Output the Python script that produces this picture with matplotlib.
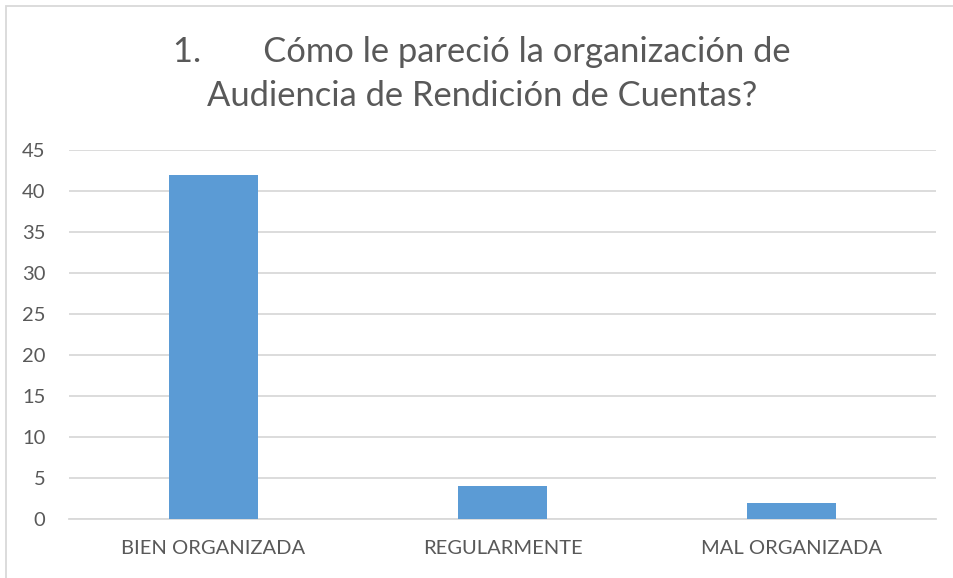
import matplotlib
matplotlib.use("Agg")
import matplotlib.pyplot as plt
from matplotlib.patches import Rectangle

categories = ["BIEN ORGANIZADA", "REGULARMENTE", "MAL ORGANIZADA"]
values = [42, 4, 2]
yticks = [0, 5, 10, 15, 20, 25, 30, 35, 40, 45]
title = "1.       Cómo le pareció la organización de\nAudiencia de Rendición de Cuentas?"

W, H = 954, 578
dpi = 100
fig = plt.figure(figsize=(W / dpi, H / dpi), dpi=dpi)
plt.rcParams['font.family'] = ['Lato', 'DejaVu Sans']

text_color = "#595959"
grid_color = "#D9D9D9"
bar_color = "#5B9BD5"

# axes: x 69..936, y 150..519 (pixels)
x0, x1, y0, y1 = 69, 936, 150, 519
ax = fig.add_axes([x0 / W, 1 - y1 / H, (x1 - x0) / W, (y1 - y0) / H])
ax.bar(range(len(categories)), values, width=0.31, color=bar_color, zorder=3)
ax.set_xlim(-0.5, len(categories) - 0.5)
ax.set_ylim(0, 45)
ax.set_yticks(yticks)
ax.set_xticks(range(len(categories)))
ax.set_xticklabels(categories)
ax.yaxis.grid(True, color=grid_color, linewidth=1.3, zorder=0)
ax.set_axisbelow(True)
for s in ["top", "right", "left"]:
    ax.spines[s].set_visible(False)
ax.spines["bottom"].set_color(grid_color)
ax.spines["bottom"].set_linewidth(1.3)
ax.tick_params(axis="both", length=0, labelcolor=text_color, labelsize=14.5)
ax.tick_params(axis="y", pad=17)
ax.tick_params(axis="x", pad=15)
for lbl in ax.get_yticklabels():
    lbl.set_horizontalalignment("right")

fig.text(0.505, 1 - 74 / H, title, ha="center", va="center", fontsize=24.8,
         color=text_color, linespacing=1.45)

# chart border (top and left visible)
fig.patches.append(Rectangle((6 / W, -0.1), 1.2, 1 - 6 / H + 0.1,
                             transform=fig.transFigure, fill=False,
                             edgecolor=grid_color, linewidth=1.3))

fig.savefig("out.png", dpi=dpi, facecolor="white")
